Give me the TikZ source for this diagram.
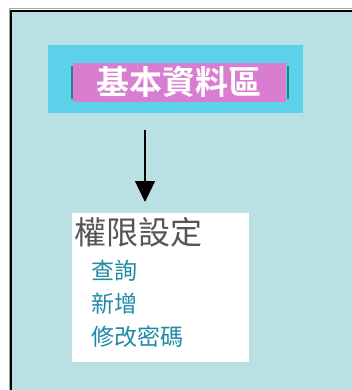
\documentclass[tikz,border=0pt]{standalone}
\usepackage{fontspec}
\usetikzlibrary{arrows.meta}
\newfontfamily\cjk{Noto Sans CJK TC}
\newfontfamily\cjkbold{Noto Sans CJK TC Bold}
\definecolor{bgblue}{HTML}{BBE0E3}
\definecolor{cyanbox}{HTML}{5CD2EA}
\definecolor{pinkbox}{HTML}{D87DD0}
\definecolor{tealtext}{HTML}{1F8AA6}
\definecolor{graytext}{HTML}{555555}
\definecolor{barcol}{HTML}{2E7C8C}
\tikzset{
  menuitem/.style={anchor=west, inner sep=0pt, text=tealtext, font=\cjk\fontsize{23}{23}\selectfont},
}
\begin{document}
\begin{tikzpicture}[x=1pt,y=-1pt]
\useasboundingbox (0,0) rectangle (352,390);
\fill[white] (0,0) rectangle (352,390);
\fill[bgblue] (10,10) rectangle (352,390);
\draw[gray!70, line width=1pt] (9,390) -- (9,9) -- (352,9);
\draw[black, line width=2pt] (11,390) -- (11,11) -- (352,11);
% top box
\node[fill=cyanbox, minimum width=255pt, minimum height=68pt, inner sep=0pt, anchor=north west] (cyan) at (48,45) {};
\node[fill=pinkbox, minimum width=213pt, minimum height=39pt, inner sep=0pt, anchor=north west] (pink) at (73,63) {};
\fill[barcol] (70.5,66) rectangle (72.5,99);
\fill[barcol] (287,66) rectangle (289,99);
\node[text=white, inner sep=0pt, font=\cjkbold\fontsize{33}{33}\selectfont] (title) at (179,82) {基本資料區};
% arrow
\coordinate (astart) at (145,130);
\coordinate (aend) at (145,202);
\draw[line width=1.4pt, -{Triangle[length=21pt,width=20pt]}] (astart) -- (aend);
% white menu box
\node[fill=white, minimum width=177pt, minimum height=149pt, inner sep=0pt, anchor=north west] (menu) at (72,213) {};
\node[anchor=west, inner sep=0pt, text=graytext, font=\cjk\fontsize{32}{32}\selectfont] (head) at (74,232) {權限設定};
\node[menuitem] (q) at (91,271) {查詢};
\node[menuitem] (n) at (91,304) {新增};
\node[menuitem] (p) at (91,337) {修改密碼};
\end{tikzpicture}
\end{document}
